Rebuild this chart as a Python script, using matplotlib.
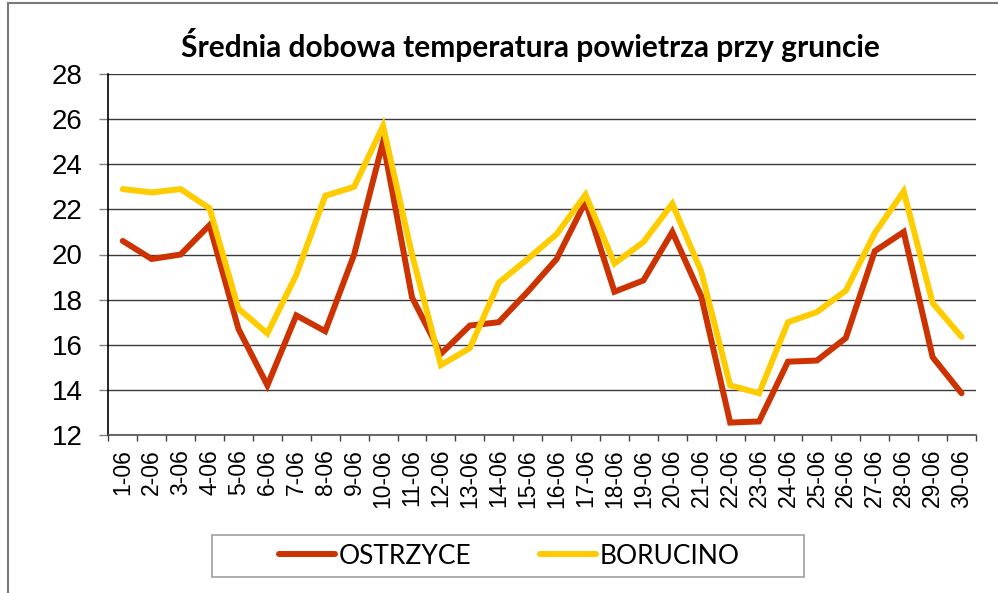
import matplotlib
matplotlib.use("Agg")
import matplotlib.pyplot as plt
from matplotlib.lines import Line2D
from matplotlib.patches import Rectangle

days = [f"{d}-06" for d in range(1, 31)]
ostrzyce = [20.6, 19.8, 20.0, 21.3, 16.7, 14.2, 17.3, 16.6, 20.0, 25.0,
            18.1, 15.6, 16.85, 17.0, 18.35, 19.8, 22.35, 18.35, 18.85, 21.0,
            18.15, 12.55, 12.6, 15.25, 15.3, 16.3, 20.15, 21.0, 15.45, 13.85]
borucino = [22.9, 22.75, 22.9, 22.05, 17.6, 16.5, 19.1, 22.6, 23.0, 25.7,
            20.0, 15.1, 15.85, 18.75, 19.8, 20.9, 22.65, 19.6, 20.55, 22.25,
            19.25, 14.2, 13.85, 17.0, 17.45, 18.4, 20.95, 22.8, 17.85, 16.35]
yticks = list(range(12, 29, 2))
title = "Średnia dobowa temperatura powietrza przy gruncie"

W, H = 998, 593
fig = plt.figure(figsize=(W/100, H/100), dpi=100)
ax = fig.add_axes([108.3/W, 1-435/H, (976-108.3)/W, (435-74)/H])

x = [i + 0.5 for i in range(len(days))]
l1, = ax.plot(x, ostrzyce, color="#CC3300", lw=4.3, solid_joinstyle="miter", solid_capstyle="round", label="OSTRZYCE", zorder=3)
l2, = ax.plot(x, borucino, color="#FFCC00", lw=4.3, solid_joinstyle="miter", solid_capstyle="round", label="BORUCINO", zorder=3)

ax.set_xlim(0, 30)
ax.set_ylim(12, 28)
ax.set_yticks(yticks)
ax.set_yticklabels([str(t) for t in yticks], fontsize=20, family="Liberation Sans")
ax.yaxis.grid(True, color="#3a3a3a", lw=1.0)
ax.set_axisbelow(True)
ax.tick_params(axis="y", direction="out", length=6.5, width=1, color="#808080", pad=12)

ax.set_xticks(range(0, 31))
ax.set_xticklabels([])
ax.tick_params(axis="x", which="major", direction="out", length=4.5, width=1, color="#404040")
ax.set_xticks(x, minor=True)
ax.set_xticklabels(days, minor=True, rotation=90, fontsize=16.5, family="Liberation Sans")
ax.tick_params(axis="x", which="minor", length=0, pad=10)

for s in ["top", "right"]:
    ax.spines[s].set_visible(False)
ax.spines["left"].set_color("black")
ax.spines["left"].set_linewidth(1.2)
ax.spines["bottom"].set_color("#505050")
ax.spines["bottom"].set_linewidth(1.2)

fig.text(530/W, 1-45/H, title, ha="center", va="center", fontsize=21.5, fontweight="bold", family="Lato")

# legend frame
fig.add_artist(Rectangle((211.7/W, 1-577.3/H), (804-211.7)/W, (577.3-535)/H,
                         transform=fig.transFigure, fill=False, edgecolor="#a0a0a0", lw=1.2))
leg = fig.legend(handles=[l1, l2], loc="center", bbox_to_anchor=(509.5/W, 1-556/H),
                 ncol=2, frameon=False, prop={"family": "Lato", "size": 19},
                 handlelength=2.12, handletextpad=0.15, columnspacing=2.6, borderpad=0.0)

fig.add_artist(Line2D([8/W, 1], [1-3/H, 1-3/H], color="#7a7a7a", lw=1.5, transform=fig.transFigure))
fig.add_artist(Line2D([8/W, 8/W], [0, 1-3/H], color="#7a7a7a", lw=1.5, transform=fig.transFigure))

fig.savefig("out.png", dpi=100)
